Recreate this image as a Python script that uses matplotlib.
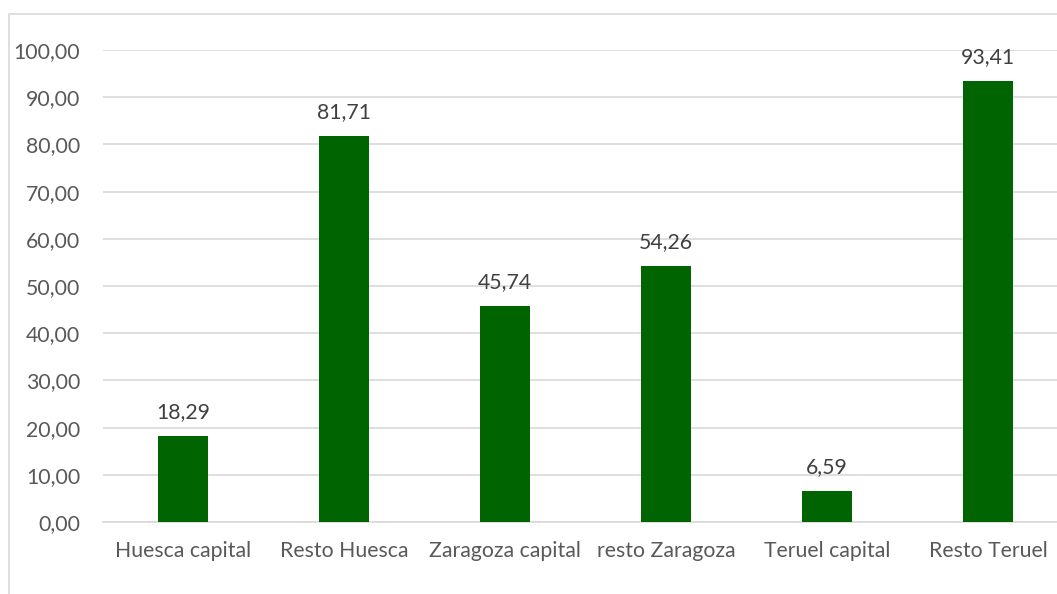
import matplotlib
matplotlib.use("Agg")
import matplotlib.pyplot as plt
from matplotlib.patches import Rectangle

categories = ["Huesca capital", "Resto Huesca", "Zaragoza capital", "resto Zaragoza", "Teruel capital", "Resto Teruel"]
values = [18.29, 81.71, 45.74, 54.26, 6.59, 93.41]
yticks = [0, 10, 20, 30, 40, 50, 60, 70, 80, 90, 100]

plt.rcParams['font.family'] = ['Lato', 'DejaVu Sans']
W, H = 1057, 594
fig = plt.figure(figsize=(W / 100, H / 100), dpi=100)
fig.patches.append(Rectangle((9 / W, -0.1), 1.2, 1 - 14 / H + 0.1, transform=fig.transFigure,
                             fill=False, edgecolor='#d9d9d9', linewidth=1.2))

left, right = 102.5 / W, 1068.5 / W
bottom, top = 1 - 522 / H, 1 - 50 / H
ax = fig.add_axes([left, bottom, right - left, top - bottom])
x = list(range(len(categories)))
ax.bar(x, values, width=0.31, color='#006400', zorder=3)
for xi, v in zip(x, values):
    ax.annotate(f"{v:.2f}".replace('.', ','), (xi, v), xytext=(0, 10), textcoords='offset points',
                ha='center', va='bottom', fontsize=15.3, color='#404040')
ax.set_xlim(-0.5, len(categories) - 0.5)
ax.set_ylim(0, 100)
ax.set_yticks(yticks)
ax.set_yticklabels([f"{t:.2f}".replace('.', ',') for t in yticks], fontsize=15.3, color='#595959')
ax.set_xticks(x)
ax.set_xticklabels(categories, fontsize=15.3, color='#595959')
ax.tick_params(axis='y', length=0, pad=16)
ax.tick_params(axis='x', length=0, pad=14)
ax.yaxis.grid(True, color='#d9d9d9', linewidth=1.2, zorder=0)
for s in ax.spines.values():
    s.set_visible(False)
ax.spines['bottom'].set_visible(True)
ax.spines['bottom'].set_color('#d9d9d9')
ax.spines['bottom'].set_linewidth(1.2)
fig.savefig("out.png", dpi=100)
